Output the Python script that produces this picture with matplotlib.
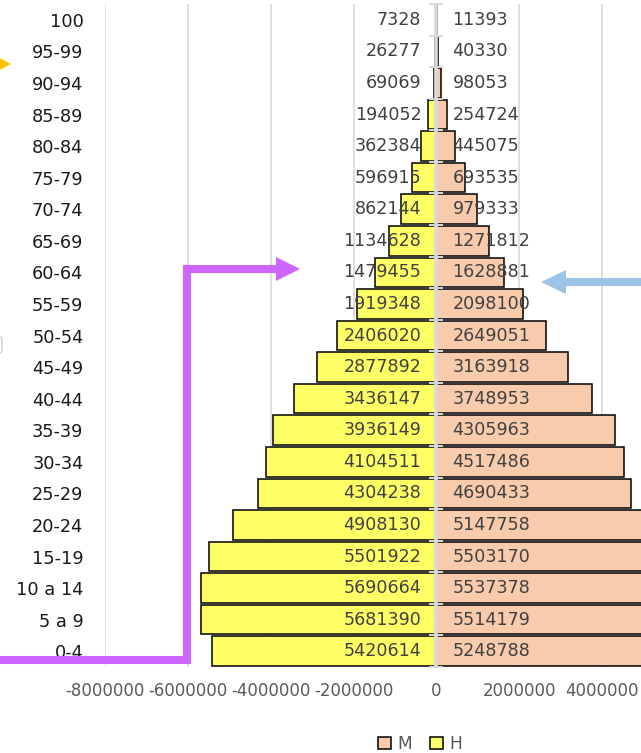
import numpy as np
import matplotlib
matplotlib.use('Agg')
import matplotlib.pyplot as plt
from matplotlib.lines import Line2D
from matplotlib.patches import Polygon, FancyBboxPatch
from matplotlib.ticker import FuncFormatter

plt.rcParams['font.family'] = 'DejaVu Sans'

## data (youngest first) ##
ages = ['0-4', '5 a 9', '10 a 14', '15-19', '20-24', '25-29', '30-34', '35-39',
        '40-44', '45-49', '50-54', '55-59', '60-64', '65-69', '70-74', '75-79',
        '80-84', '85-89', '90-94', '95-99', '100']
hombres = [5420614, 5681390, 5690664, 5501922, 4908130, 4304238, 4104511, 3936149,
           3436147, 2877892, 2406020, 1919348, 1479455, 1134628, 862144, 596915,
           362384, 194052, 69069, 26277, 7328]
mujeres = [5248788, 5514179, 5537378, 5503170, 5147758, 4690433, 4517486, 4305963,
           3748953, 3163918, 2649051, 2098100, 1628881, 1271812, 979333, 693535,
           445075, 254724, 98053, 40330, 11393]
xticks = [-8000000, -6000000, -4000000, -2000000, 0, 2000000, 4000000]

W, H = 641, 753
fig = plt.figure(figsize=(W / 100, H / 100), dpi=100)
# plot area runs past the right edge (screenshot was cropped)
ax = fig.add_axes([105 / W, 86 / H, 663 / W, 663 / H])

y = np.arange(len(ages))
barM = ax.barh(y, mujeres, height=0.94, color='#F8CBAD', edgecolor='black', linewidth=1.1, zorder=2, label='M')
barH = ax.barh(y, [-v for v in hombres], height=0.94, color='#FFFF66', edgecolor='black', linewidth=1.1, zorder=2, label='H')

# vertical axis at zero with cross ticks
ax.axvline(0, color='#D9D9D9', lw=2.6, zorder=3)
ax.scatter(np.zeros(len(ages) + 1), np.arange(len(ages) + 1) - 0.5, marker='_', s=100,
           color='#D9D9D9', linewidths=1.4, zorder=3, clip_on=False)

for i in range(len(ages)):
    ax.annotate(str(hombres[i]), (0, y[i]), xytext=(-10.8, 0), textcoords='offset points',
                ha='right', va='center', fontsize=12.6, color='#404040', zorder=5)
    ax.annotate(str(mujeres[i]), (0, y[i]), xytext=(11.5, 0), textcoords='offset points',
                ha='left', va='center', fontsize=12.6, color='#404040', zorder=5)

ax.set_xlim(-8000000, 8000000)
ax.set_ylim(-0.5, len(ages) - 0.5)
ax.set_xticks(xticks)
ax.xaxis.set_major_formatter(FuncFormatter(lambda v, p: str(int(v))))
ax.grid(axis='x', color='#D9D9D9', lw=1.2, zorder=0)
ax.set_axisbelow(True)
ax.set_yticks(y)
ax.set_yticklabels(ages)
ax.tick_params(axis='y', length=0, pad=15.5, labelsize=12.8, labelcolor='#1a1a1a')
ax.tick_params(axis='x', length=0, pad=11, labelsize=11.9, labelcolor='#595959')
for s in ax.spines.values():
    s.set_visible(False)

fig.legend(handles=[barM, barH], labels=['M', 'H'], loc='center', ncol=2,
           bbox_to_anchor=(420 / W, 1 - 744 / H), frameon=False, fontsize=12.3,
           labelcolor='#595959', handlelength=0.75, handleheight=0.75,
           handletextpad=0.35, columnspacing=1.1)

## annotation arrows (figure pixels, y from top) ##
def fx(px):
    return px / W

def fy(px):
    return 1 - px / H

purple = '#CC66FF'
fig.add_artist(Line2D([fx(-10), fx(187), fx(187), fx(278)], [fy(660), fy(660), fy(269), fy(269)],
                      transform=fig.transFigure, color=purple, lw=5.8,
                      solid_joinstyle='miter', solid_capstyle='butt'))
fig.add_artist(Polygon([(fx(276), fy(257)), (fx(300), fy(269)), (fx(276), fy(281))],
                       closed=True, transform=fig.transFigure, color=purple, lw=0))

blue = '#9DC3E6'
fig.add_artist(Line2D([fx(650), fx(563)], [fy(282), fy(282)], transform=fig.transFigure,
                      color=blue, lw=5.8, solid_capstyle='butt'))
fig.add_artist(Polygon([(fx(566), fy(270)), (fx(541), fy(282)), (fx(566), fy(294))],
                       closed=True, transform=fig.transFigure, color=blue, lw=0))

fig.add_artist(Polygon([(fx(-6), fy(55)), (fx(11), fy(64)), (fx(-6), fy(73))],
                       closed=True, transform=fig.transFigure, color='#FFC000', lw=0))

fig.add_artist(FancyBboxPatch((fx(-20), fy(353)), fx(22), 16 / H, boxstyle='round,pad=0,rounding_size=0.004',
                              transform=fig.transFigure, facecolor='none', edgecolor='#CFCFCF', lw=1))

plt.savefig('out.png', dpi=100)
